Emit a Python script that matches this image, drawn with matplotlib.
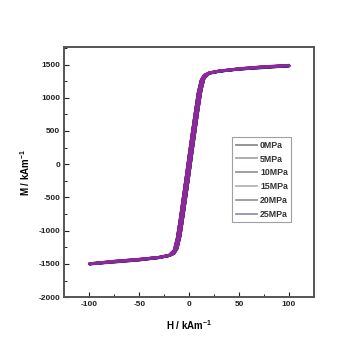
import matplotlib
matplotlib.use("Agg")
import matplotlib.pyplot as plt
from matplotlib.lines import Line2D
from matplotlib.ticker import MultipleLocator

plt.rcParams['font.family'] = ['Liberation Sans', 'DejaVu Sans']
plt.rcParams['axes.unicode_minus'] = False
plt.rcParams['mathtext.default'] = 'regular'

labels = ['0MPa', '5MPa', '10MPa', '15MPa', '20MPa', '25MPa']
curve_colors = ['#222222', '#c0306a', '#3a2a9a', '#b020b0', '#502050', '#8a2a9a']
legend_colors = ['#8c8c8c', '#a8a8a8', '#a0909a', '#b0b8b0', '#989898', '#9890a8']

# Descending branch (H from +100 to -100) then ascending branch (H from -100 to +100)
H_loop = [100, 75, 50, 30, 20, 15, 12, 9, 6, 3, 0, -3, -6, -9, -12, -15, -20, -30, -50, -75, -100,
          -75, -50, -30, -20, -15, -12, -9, -6, -3, 0, 3, 6, 9, 12, 15, 20, 30, 50, 75, 100]

M_0 = [1480, 1455, 1430, 1400, 1372, 1335, 1260, 1070, 770, 460, 140, -190, -510, -830, -1120, -1300, -1372, -1405, -1440, -1470, -1500,
       -1462, -1432, -1402, -1375, -1340, -1265, -1075, -775, -465, -145, 185, 505, 825, 1115, 1295, 1368, 1398, 1435, 1465, 1480]
M_5 = [1485, 1460, 1432, 1402, 1375, 1338, 1265, 1078, 778, 468, 148, -182, -502, -822, -1112, -1295, -1370, -1402, -1437, -1468, -1498,
       -1460, -1430, -1400, -1372, -1335, -1260, -1068, -768, -458, -138, 192, 512, 832, 1120, 1300, 1370, 1400, 1438, 1468, 1485]
M_10 = [1478, 1452, 1428, 1398, 1370, 1332, 1255, 1062, 760, 452, 132, -198, -518, -838, -1128, -1305, -1376, -1408, -1443, -1474, -1503,
        -1465, -1435, -1405, -1378, -1345, -1272, -1082, -782, -472, -152, 178, 498, 818, 1108, 1290, 1365, 1395, 1432, 1462, 1478]
M_15 = [1490, 1462, 1435, 1405, 1378, 1342, 1270, 1085, 785, 475, 155, -175, -495, -815, -1105, -1290, -1366, -1398, -1434, -1465, -1495,
        -1458, -1428, -1398, -1370, -1332, -1255, -1060, -760, -450, -130, 200, 520, 840, 1125, 1305, 1374, 1404, 1440, 1470, 1490]
M_20 = [1482, 1458, 1431, 1401, 1373, 1336, 1262, 1072, 772, 462, 142, -188, -508, -828, -1118, -1298, -1371, -1404, -1439, -1469, -1499,
        -1461, -1431, -1401, -1374, -1338, -1262, -1072, -772, -462, -142, 188, 508, 828, 1118, 1298, 1369, 1399, 1436, 1466, 1482]
M_25 = [1484, 1459, 1432, 1402, 1374, 1337, 1263, 1074, 774, 464, 144, -186, -506, -826, -1116, -1297, -1370, -1403, -1438, -1468, -1500,
        -1460, -1430, -1400, -1373, -1337, -1261, -1070, -770, -460, -140, 190, 510, 830, 1120, 1299, 1370, 1400, 1437, 1467, 1484]
M_series = [M_0, M_5, M_10, M_15, M_20, M_25]

fig = plt.figure(figsize=(3.5, 3.5), dpi=100)
ax = fig.add_axes([0.184, 0.151, 0.713, 0.714])

for M, c in zip(M_series, curve_colors):
    ax.plot(H_loop, M, color=c, lw=1.9, solid_capstyle='round', solid_joinstyle='round')

ax.set_xlim(-125, 125)
ax.set_ylim(-2000, 1760)
ax.xaxis.set_major_locator(MultipleLocator(50))
ax.xaxis.set_minor_locator(MultipleLocator(25))
ax.yaxis.set_major_locator(MultipleLocator(500))
ax.yaxis.set_minor_locator(MultipleLocator(250))
ax.tick_params(which='both', direction='in', top=False, right=False,
               labelsize=6, pad=3, colors='#222222')
ax.tick_params(which='major', length=3.5, width=0.8)
ax.tick_params(which='minor', length=2, width=0.7)
for lab in ax.get_xticklabels() + ax.get_yticklabels():
    lab.set_fontweight('bold')
for s in ax.spines.values():
    s.set_color('#555555')
    s.set_linewidth(1.4)

ax.set_xlabel('H / kAm$^{-1}$', fontsize=7, labelpad=7, fontweight='bold')
ax.set_ylabel('M / kAm$^{-1}$', fontsize=7, labelpad=5, fontweight='bold')

handles = [Line2D([], [], color=c, lw=1.3) for c in legend_colors]
leg = ax.legend(handles, labels, loc='upper left', bbox_to_anchor=(0.672, 0.64),
                prop={'size': 6.3, 'weight': 'bold'}, frameon=True, fancybox=False,
                handlelength=2.4, handletextpad=0.4, labelspacing=0.55,
                borderpad=0.4, borderaxespad=0)
leg.get_frame().set_edgecolor('#888888')
leg.get_frame().set_linewidth(0.8)
for t in leg.get_texts():
    t.set_color('#333333')

fig.savefig('out.png', dpi=100, facecolor='white')
